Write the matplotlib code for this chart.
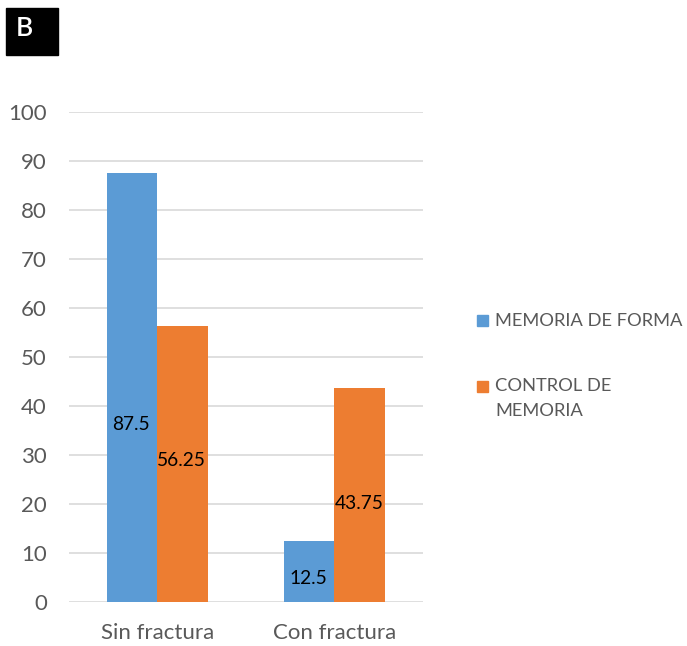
import matplotlib
matplotlib.use("Agg")
import matplotlib.pyplot as plt
from matplotlib.patches import Rectangle
import numpy as np

categories = ["Sin fractura", "Con fractura"]
series_names = ["MEMORIA DE FORMA", "CONTROL DE\nMEMORIA"]
memoria_forma = [87.5, 12.5]
control_memoria = [56.25, 43.75]
y_ticks = [0, 10, 20, 30, 40, 50, 60, 70, 80, 90, 100]

colors = ["#5B9BD5", "#ED7D31"]
# vertical placement of the value labels, in data units
label_y = [[36.3, 4.7], [28.8, 20.2]]

plt.rcParams["font.family"] = ["Lato", "DejaVu Sans"]

fig = plt.figure(figsize=(6.87, 6.46), dpi=100)
ax = fig.add_axes([0.1004, 0.0681, 0.5153, 0.7585])

x = np.arange(len(categories))
width = 0.285
series = [memoria_forma, control_memoria]
offsets = [-width / 2, width / 2]
for vals, off, col, ly in zip(series, offsets, colors, label_y):
    bars = ax.bar(x + off, vals, width=width, color=col, zorder=3)
    for b, v, yy in zip(bars, vals, ly):
        ax.text(b.get_x() + b.get_width() / 2 - 0.005, yy, f"{v:g}",
                ha="center", va="center", fontsize=13.8, color="black", zorder=4)

ax.set_xlim(-0.5, 1.5)
ax.set_ylim(0, 100)
ax.set_yticks(y_ticks)
ax.set_xticks(x)
ax.set_xticklabels(categories)
ax.tick_params(axis="both", length=0, labelsize=16, colors="#595959")
ax.tick_params(axis="y", pad=16)
ax.tick_params(axis="x", pad=15)
ax.grid(axis="y", color="#D9D9D9", linewidth=1.2, zorder=0)
ax.set_axisbelow(True)
for s in ax.spines.values():
    s.set_visible(False)

# legend drawn beside the plot area
W, H = 687, 646
sq = 11
for name, col, ytop_px in zip(series_names, colors, [321, 386]):
    fig.patches.append(Rectangle((477 / W, 1 - (ytop_px + sq / 2) / H), sq / W, sq / H,
                                 transform=fig.transFigure, color=col))
    fig.text(495 / W, 1 - (ytop_px - 8) / H, name, ha="left", va="top",
             fontsize=13.2, color="#595959", linespacing=1.72)

# panel tag
fig.patches.append(Rectangle((6 / W, 1 - 55 / H), 52 / W, 47 / H,
                             transform=fig.transFigure, color="black"))
fig.text(16 / W, 1 - 29 / H, "B", ha="left", va="center", fontsize=19,
         color="white", fontweight="semibold")

fig.savefig("out.png", dpi=100)
